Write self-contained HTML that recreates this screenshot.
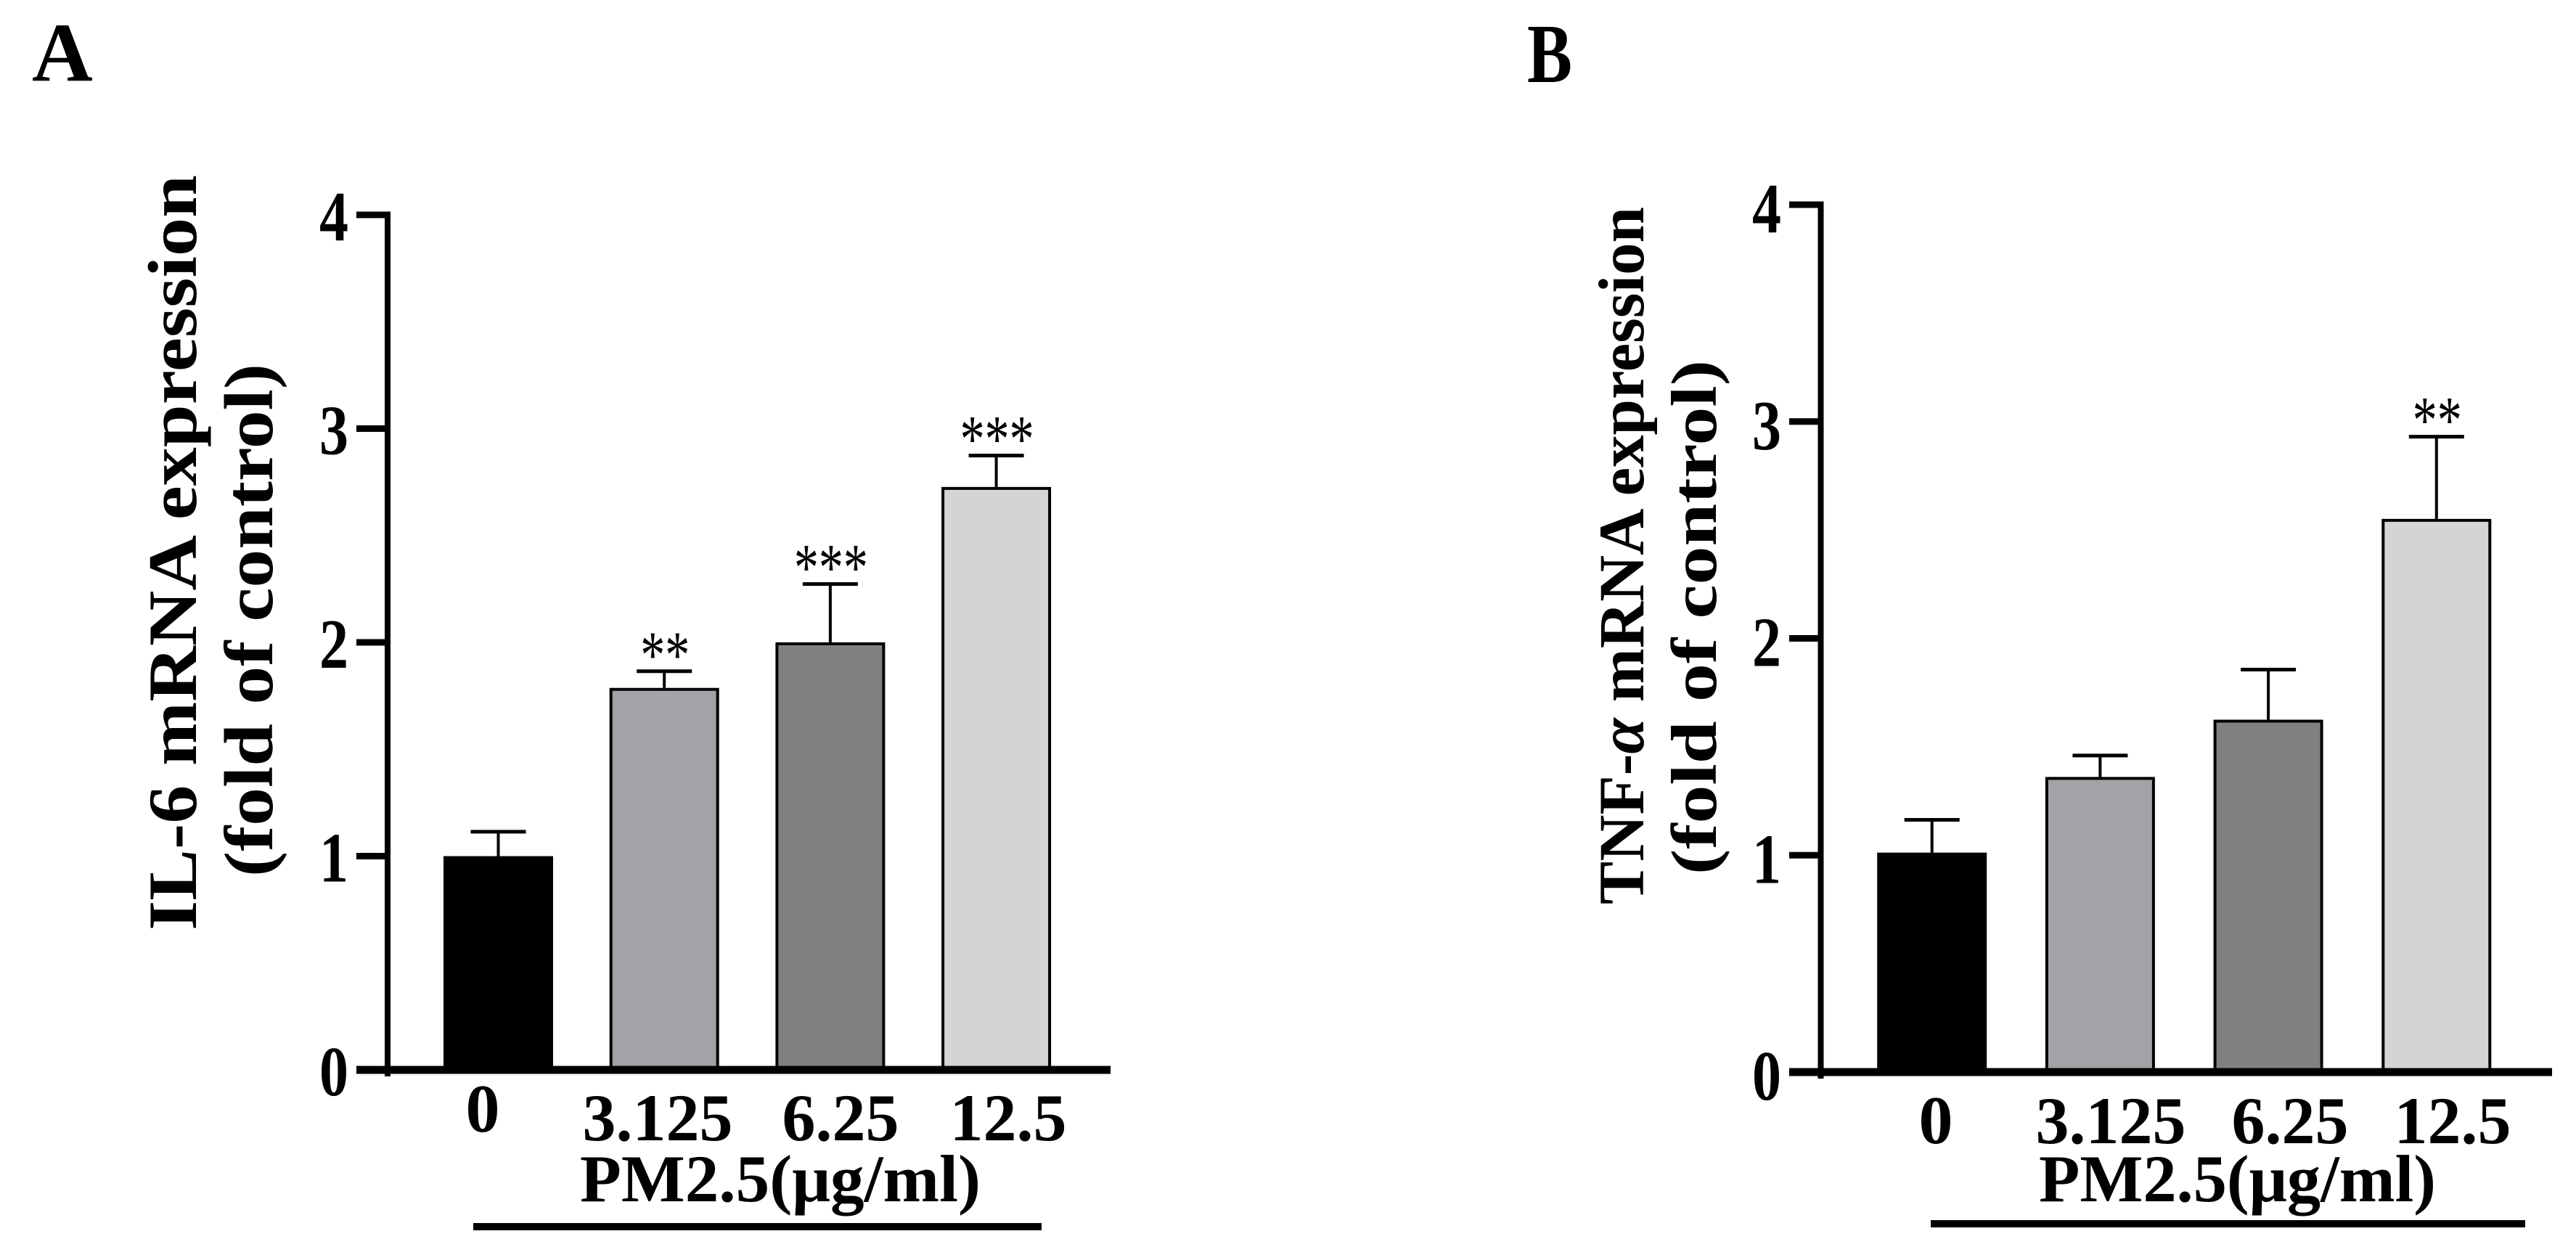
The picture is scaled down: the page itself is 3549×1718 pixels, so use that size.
<!DOCTYPE html>
<html lang="en">
<head>
<meta charset="utf-8">
<title>IL-6 and TNF-α mRNA expression</title>
<style>
html,body{margin:0;padding:0;background:#fff;}
svg{display:block;}
text{font-family:"Liberation Serif","DejaVu Serif",serif;font-weight:bold;fill:#000;}
.star{font-weight:normal;}
</style>
</head>
<body>
<svg id="figure" width="3549" height="1718" viewBox="0 0 3549 1718" xmlns="http://www.w3.org/2000/svg">
  <rect width="3549" height="1718" fill="#ffffff"/>

  <text x="44" y="111" font-size="116">A</text>
  <text x="2104" y="113" font-size="116" textLength="62" lengthAdjust="spacingAndGlyphs">B</text>

  <text transform="translate(270,1282) rotate(-90)" font-size="95" textLength="1041" lengthAdjust="spacingAndGlyphs">IL-6 mRNA expression</text>
  <text transform="translate(375,1208) rotate(-90)" font-size="95" textLength="707" lengthAdjust="spacingAndGlyphs">(fold of control)</text>
  <text transform="translate(2264,1246) rotate(-90)" font-size="89" textLength="961" lengthAdjust="spacingAndGlyphs">TNF-<tspan font-style="italic">α</tspan> mRNA expression</text>
  <text transform="translate(2364,1205) rotate(-90)" font-size="89" textLength="709" lengthAdjust="spacingAndGlyphs">(fold of control)</text>

  <g id="panel-a"></g>
  <g id="panel-b"></g>

  <text x="665" y="1559" font-size="94" text-anchor="middle">0</text>
  <text x="906" y="1571" font-size="92" text-anchor="middle">3.125</text>
  <text x="1158" y="1571" font-size="92" text-anchor="middle">6.25</text>
  <text x="1389" y="1571" font-size="92" text-anchor="middle">12.5</text>
  <text x="799" y="1655" font-size="92" textLength="552" lengthAdjust="spacingAndGlyphs">PM2.5(μg/ml)</text>
  <rect x="652" y="1685" width="783" height="10" fill="#000"/>

  <text x="2667" y="1575" font-size="94" text-anchor="middle">0</text>
  <text x="2908" y="1575" font-size="92" text-anchor="middle">3.125</text>
  <text x="3155" y="1575" font-size="92" text-anchor="middle">6.25</text>
  <text x="3379" y="1575" font-size="92" text-anchor="middle">12.5</text>
  <text x="2809" y="1655" font-size="92" textLength="547" lengthAdjust="spacingAndGlyphs">PM2.5(μg/ml)</text>
  <rect x="2660" y="1681" width="819" height="10" fill="#000"/>
</svg>
<script>
const categories = ["0", "3.125", "6.25", "12.5"];
const yTickLabels = [0, 1, 2, 3, 4];
const panelAValues = [1.0, 1.787, 2.0, 2.727];
const panelAErrorTops = [1.114, 1.865, 2.273, 2.874];
const panelASignificance = ["", "**", "***", "***"];
const panelBValues = [1.012, 1.361, 1.625, 2.551];
const panelBErrorTops = [1.163, 1.46, 1.856, 2.93];
const panelBSignificance = ["", "", "", "**"];
const barFills = ["#000000", "#a3a2a6", "#808080", "#d4d4d4"];

const NS = "http://www.w3.org/2000/svg";

function make(parent, tag, attrs) {
  const el = document.createElementNS(NS, tag);
  for (const k in attrs) el.setAttribute(k, attrs[k]);
  parent.appendChild(el);
  return el;
}

function drawPanel(prefix, root, cfg, values, errorTops, significance) {
  const yScale = v => cfg.y0 - v * cfg.unit;
  const xCenter = i => cfg.firstBar + i * cfg.step;
  const yTop = yScale(yTickLabels[yTickLabels.length - 1]);

  categories.forEach((cat, i) => {
    const cx = xCenter(i);
    const top = yScale(values[i]);
    const capY = yScale(errorTops[i]);

    const stem = make(root, "line", {x1: cx, x2: cx, y1: capY, y2: top, stroke: "#000", "stroke-width": 4});
    
    

    const cap = make(root, "line", {x1: cx - 38, x2: cx + 38, y1: capY, y2: capY, stroke: "#000", "stroke-width": 5});
    
    

    const bar = make(root, "rect", {
      x: cx - 75.5 + 2, y: top + 2, width: 147, height: cfg.y0 - top - 2,
      fill: barFills[i], stroke: "#000", "stroke-width": 4
    });
    
    

    if (significance[i]) {
      const star = make(root, "text", {
        x: cx + 1, y: capY + 8, "font-size": 92, "text-anchor": "middle",
        textLength: significance[i].length * 34, lengthAdjust: "spacingAndGlyphs", class: "star"
      });
      star.textContent = significance[i];
      
      
    }
  });

  const yAxis = make(root, "line", {x1: cfg.axisX, x2: cfg.axisX, y1: yTop - 4.5, y2: cfg.y0 + 9, stroke: "#000", "stroke-width": 8});
  
  

  const xAxis = make(root, "line", {x1: cfg.tickStart, x2: cfg.axisEnd, y1: cfg.y0, y2: cfg.y0, stroke: "#000", "stroke-width": 11});
  
  

  yTickLabels.forEach(t => {
    const ty = yScale(t);
    if (t !== 0) {
      const tick = make(root, "line", {x1: cfg.tickStart, x2: cfg.axisX, y1: ty, y2: ty, stroke: "#000", "stroke-width": 9});
      
      
    }
    const lab = make(root, "text", {x: cfg.labelX, y: ty + cfg.labelDy, "font-size": 97, "text-anchor": "middle", textLength: 40, lengthAdjust: "spacingAndGlyphs"});
    lab.textContent = t;
    
    
  });
}

drawPanel("panel-a", document.getElementById("panel-a"),
  {y0: 1474, unit: 294.5, firstBar: 686.5, step: 228.7, axisX: 534, tickStart: 491, axisEnd: 1530, labelX: 460, labelDy: 35},
  panelAValues, panelAErrorTops, panelASignificance);

drawPanel("panel-b", document.getElementById("panel-b"),
  {y0: 1477, unit: 298.75, firstBar: 2661.7, step: 231.7, axisX: 2508.5, tickStart: 2465, axisEnd: 3516, labelX: 2434, labelDy: 38},
  panelBValues, panelBErrorTops, panelBSignificance);
</script>
</body>
</html>
